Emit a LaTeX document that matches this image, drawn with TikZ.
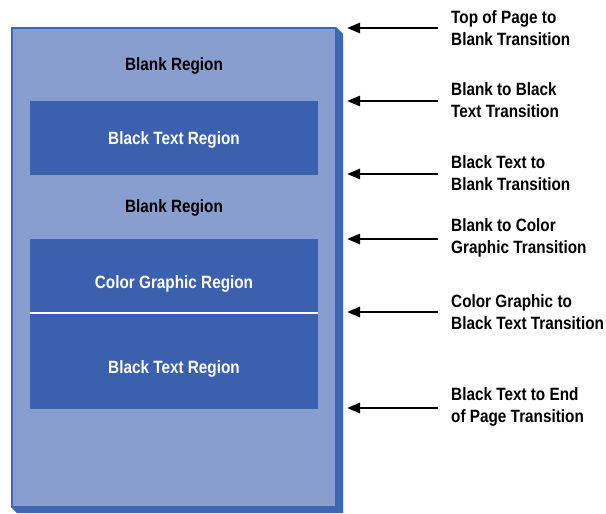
\documentclass[tikz,border=0pt]{standalone}
\usepackage{fontspec}
\setmainfont[FakeStretch=0.86]{Liberation Sans}
\usetikzlibrary{arrows.meta}
\definecolor{pagefill}{HTML}{889ECF}
\definecolor{pageside}{HTML}{3B67B5}
\definecolor{regionfill}{HTML}{3A60AE}
\tikzset{
  labelfont/.style={font=\bfseries\fontsize{17.8}{21}\selectfont},
  region/.style={fill=regionfill, draw=none, minimum width=288pt, inner sep=0pt},
  regionlabel/.style={labelfont, inner sep=0pt, text=white},
  blanklabel/.style={labelfont, inner sep=0pt, text=black},
  translabel/.style={anchor=west, inner sep=0pt, align=left,
    font=\bfseries\fontsize{17.8}{22}\selectfont},
  pointer/.style={line width=2.6pt, -{Triangle[length=13pt,width=10pt]}},
}
\begin{document}
\begin{tikzpicture}[x=1pt, y=-1pt]
\useasboundingbox (0,0) rectangle (606,514);

% page with its bevelled edge
\fill[pageside] (11,27) -- (336,27) -- (343,34) -- (343,513) -- (17,513) -- (11,507) -- cycle;
\fill[pagefill] (13,29) rectangle (335,506);

% regions on the page
\node[blanklabel] (blank1) at (174,66) {Blank Region};
\node[region, minimum height=74pt] (text1) at (174,138) {};
\node[regionlabel] (text1label) at (174,139.5) {Black Text Region};
\node[blanklabel] (blank2) at (174,208) {Blank Region};
\node[region, minimum height=74pt] (graphic) at (174,276) {};
\node[regionlabel] (graphiclabel) at (174,283.5) {Color Graphic Region};
\node[region, minimum height=96pt] (text2) at (174,361) {};
\node[regionlabel] (text2label) at (174,368.5) {Black Text Region};
\draw[white, line width=1.5pt] (graphic.south west) -- (graphic.south east);

% transitions
\node[translabel] (t1) at (451,28) {Top of Page to\\Blank Transition};
\node[translabel] (t2) at (451,100) {Blank to Black\\Text Transition};
\node[translabel] (t3) at (451,173) {Black Text to\\Blank Transition};
\node[translabel] (t4) at (451,238) {Blank to Color\\Graphic Transition};
\node[translabel] (t5) at (451,312) {Color Graphic to\\Black Text Transition};
\node[translabel] (t6) at (451,407) {Black Text to End\\of Page Transition};

\coordinate (p1) at (347,28);
\coordinate (p2) at (347,101);
\coordinate (p3) at (347,174);
\coordinate (p4) at (347,239);
\coordinate (p5) at (347,312);
\coordinate (p6) at (347,408);

\foreach \i in {1,...,6} {
  \draw[pointer] ([xshift=-13pt]t\i.west |- p\i) -- (p\i);
}
\end{tikzpicture}
\end{document}
